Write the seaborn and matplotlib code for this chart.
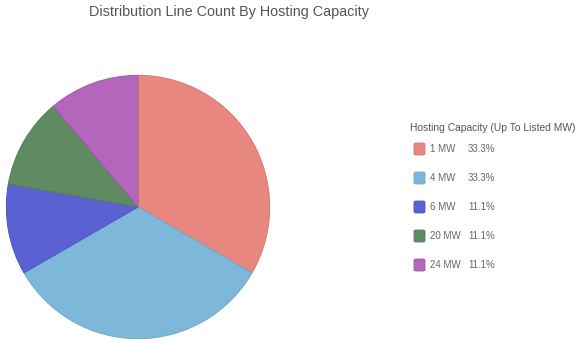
import matplotlib
matplotlib.use("Agg")
import matplotlib.pyplot as plt
from matplotlib.patches import FancyBboxPatch
import seaborn as sns

categories = ["1 MW", "4 MW", "6 MW", "20 MW", "24 MW"]
line_counts = [3, 3, 1, 1, 1]
colors = ["#E8877F", "#7DB8DA", "#5A62D2", "#608B62", "#B466BD"]
edge_colors = ["#D27A73", "#72A8C8", "#4D55BE", "#557D57", "#A05AA8"]

sns.set_theme(style="white")
plt.rcParams["font.family"] = ["Liberation Sans", "DejaVu Sans"]

W, H = 577, 343
fig = plt.figure(figsize=(W / 100, H / 100), dpi=100)
fig.patch.set_facecolor("white")

# pie area in pixel units
cx, cy, r = 138, 207, 133
ax = fig.add_axes([(cx - r) / W, (H - cy - r) / H, 2 * r / W, 2 * r / H])
wedges, _ = ax.pie(line_counts, colors=colors, startangle=90, counterclock=False,
                   radius=1.0, wedgeprops=dict(linewidth=0.7))
for w, ec in zip(wedges, edge_colors):
    w.set_edgecolor(ec)
ax.set_xlim(-1.01, 1.01)
ax.set_ylim(-1.01, 1.01)
ax.set_aspect("equal")
ax.axis("off")

fig.text(229 / W, 1 - 12 / H, "Distribution Line Count By Hosting Capacity",
         ha="center", va="center", fontsize=10.4, color="#555555")

# legend
fig.text(410 / W, 1 - 128 / H, "Hosting Capacity (Up To Listed MW)",
         ha="left", va="center", fontsize=7.4, color="#555555")
total = sum(line_counts)
for i, (cat, val, c, ec) in enumerate(zip(categories, line_counts, colors, edge_colors)):
    y = 149 + i * 29
    box = FancyBboxPatch(((414) / W, 1 - (y + 6) / H), 11 / W, 12 / H,
                         boxstyle="round,pad=0,rounding_size=0.004",
                         transform=fig.transFigure, facecolor=c,
                         edgecolor=ec, linewidth=0.6)
    fig.patches.append(box)
    fig.text(430 / W, 1 - y / H, cat, ha="left", va="center",
             fontsize=7.0, color="#666666")
    fig.text(468 / W, 1 - y / H, f"{100 * val / total:.1f}%", ha="left",
             va="center", fontsize=7.0, color="#666666")

fig.savefig("out.png", dpi=100, facecolor="white")
